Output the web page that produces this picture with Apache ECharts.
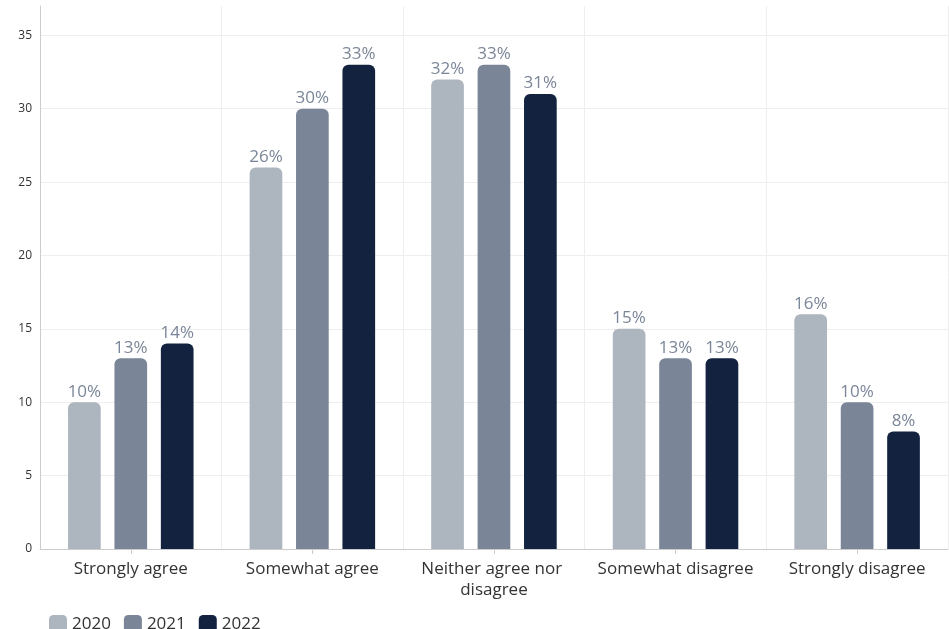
<!DOCTYPE html>
<html>
<head>
<meta charset="utf-8">
<script src="https://cdn.jsdelivr.net/npm/echarts@6/dist/echarts.min.js"></script>
<style>html,body{margin:0;padding:0;background:#fff}#c{width:949px;height:629px}</style>
</head>
<body>
<div id="c"></div>
<script>
const categories = ['Strongly agree', 'Somewhat agree', 'Neither agree nor disagree', 'Somewhat disagree', 'Strongly disagree'];
const seriesNames = ['2020', '2021', '2022'];
const values2020 = [10, 26, 32, 15, 16];
const values2021 = [13, 30, 33, 13, 10];
const values2022 = [14, 33, 31, 13, 8];
const colors = ['#adb5bf', '#7a8698', '#12223f'];

const font = '"Open Sans", Lato, sans-serif';
const chart = echarts.init(document.getElementById('c'));
const data = [values2020, values2021, values2022];
chart.setOption({
  animation: false,
  textStyle: { fontFamily: font },
  color: colors,
  grid: { left: 40, right: 0, top: 6, bottom: 80 },
  legend: {
    left: 44, top: 610, icon: 'roundRect', itemWidth: 18, itemHeight: 18, itemGap: 13,
    textStyle: { fontSize: 17, color: '#333', fontFamily: font },
    data: seriesNames
  },
  xAxis: {
    type: 'category', data: categories,
    axisLine: { lineStyle: { color: '#ccc' } },
    axisTick: { show: true, alignWithLabel: true, length: 5, lineStyle: { color: '#ccc' } },
    splitLine: { show: true, lineStyle: { color: '#eee' } },
    axisLabel: { interval: 0, fontSize: 17, color: '#333', margin: 10, width: 178, overflow: 'break', lineHeight: 21, fontFamily: font }
  },
  yAxis: {
    type: 'value', min: 0, max: 37, interval: 5,
    axisLine: { show: true, lineStyle: { color: '#ccc' } },
    axisTick: { show: false },
    splitLine: { show: true, lineStyle: { color: ['#eee','#eee','#eee','#eee','#eee','#eee','#eee','#eee','rgba(0,0,0,0)'] } },
    axisLabel: { fontSize: 12, color: '#333', margin: 8, fontFamily: font,
      formatter: v => (v % 5 === 0 ? String(v) : '') }
  },
  series: seriesNames.map((n, i) => ({
    name: n, type: 'bar', data: data[i],
    barWidth: '18%', barGap: '42%',
    itemStyle: { color: colors[i], borderRadius: [6, 6, 0, 0] },
    label: { show: true, position: 'top', distance: 2, formatter: '{c}%', fontSize: 17, color: '#7a8698', fontFamily: font }
  }))
});
</script>
</body>
</html>
